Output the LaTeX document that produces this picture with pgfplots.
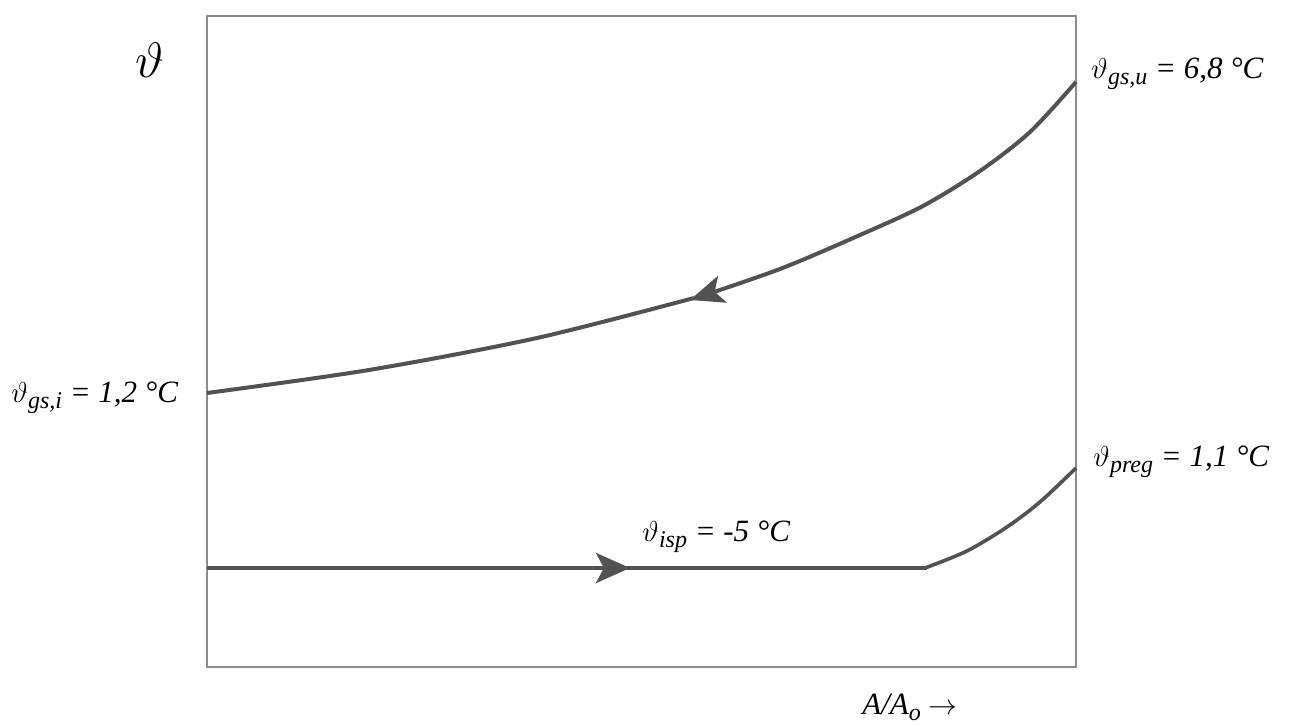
\documentclass[border=0pt]{standalone}
\usepackage{fontspec}
\setmainfont{Liberation Serif}
\usepackage{pgfplots}
\pgfplotsset{compat=1.18}
\usetikzlibrary{arrows.meta}

% pixel coordinates of the reference, 1 px = 0.5 pt
\newcommand{\sub}[1]{\raisebox{-3pt}{\fontsize{12}{12}\selectfont #1}}
\newcommand{\lbl}{\fontsize{15.5}{17}\selectfont\itshape}

\begin{document}
\begin{tikzpicture}
\begin{axis}[
    scale only axis,
    width=434.5pt, height=325.5pt,
    xmin=207, xmax=1076, ymin=0, ymax=651,
    axis line style={draw=black!45, line width=0.7pt},
    ticks=none,
    clip=false,
  ]
  % upper curve, running from right to left
  \addplot[black!68, line width=2pt, smooth, -{Stealth[length=17pt,width=14pt,inset=4pt]}]
    coordinates {(1076,585) (1030,535) (980,496) (923,461) (860,432) (780,398) (690,367)};
  \addplot[black!68, line width=2pt, smooth]
    coordinates {(694,369) (537,329) (369,297) (207,274)};
  % lower curve
  \addplot[black!68, line width=2pt, -{Stealth[length=17pt,width=15pt,inset=4pt]}]
    coordinates {(207,99) (630,99)};
  \addplot[black!68, line width=2pt]
    coordinates {(626,99) (927,99)};
  \addplot[black!68, line width=1.8pt, smooth]
    coordinates {(925,99) (967,116) (1007,140) (1040,165) (1076,199)};

  \node[anchor=base, font=\fontsize{24}{24}\selectfont] at (axis cs:150,589) {$\vartheta$};
  \node[anchor=base west, inner sep=0pt, font=\lbl] at (axis cs:1091,588)
    {$\vartheta$\sub{gs,u} = 6,8 °C};
  \node[anchor=base west, inner sep=0pt, font=\lbl] at (axis cs:11,264)
    {$\vartheta$\sub{gs,i} = 1,2 °C};
  \node[anchor=base west, inner sep=0pt, font=\lbl] at (axis cs:1093,200)
    {$\vartheta$\sub{preg} = 1,1 °C};
  \node[anchor=base west, inner sep=0pt, font=\lbl] at (axis cs:642,125)
    {$\vartheta$\sub{isp} = -5 °C};
  \node[anchor=base west, inner sep=0pt, font=\lbl] at (axis cs:862,-48)
    {A/A\sub{o} $\rightarrow$};
\end{axis}
% page frame of the reference
\path (-103.5pt,-29.5pt) rectangle (544.5pt,333.5pt);
\end{tikzpicture}
\end{document}
